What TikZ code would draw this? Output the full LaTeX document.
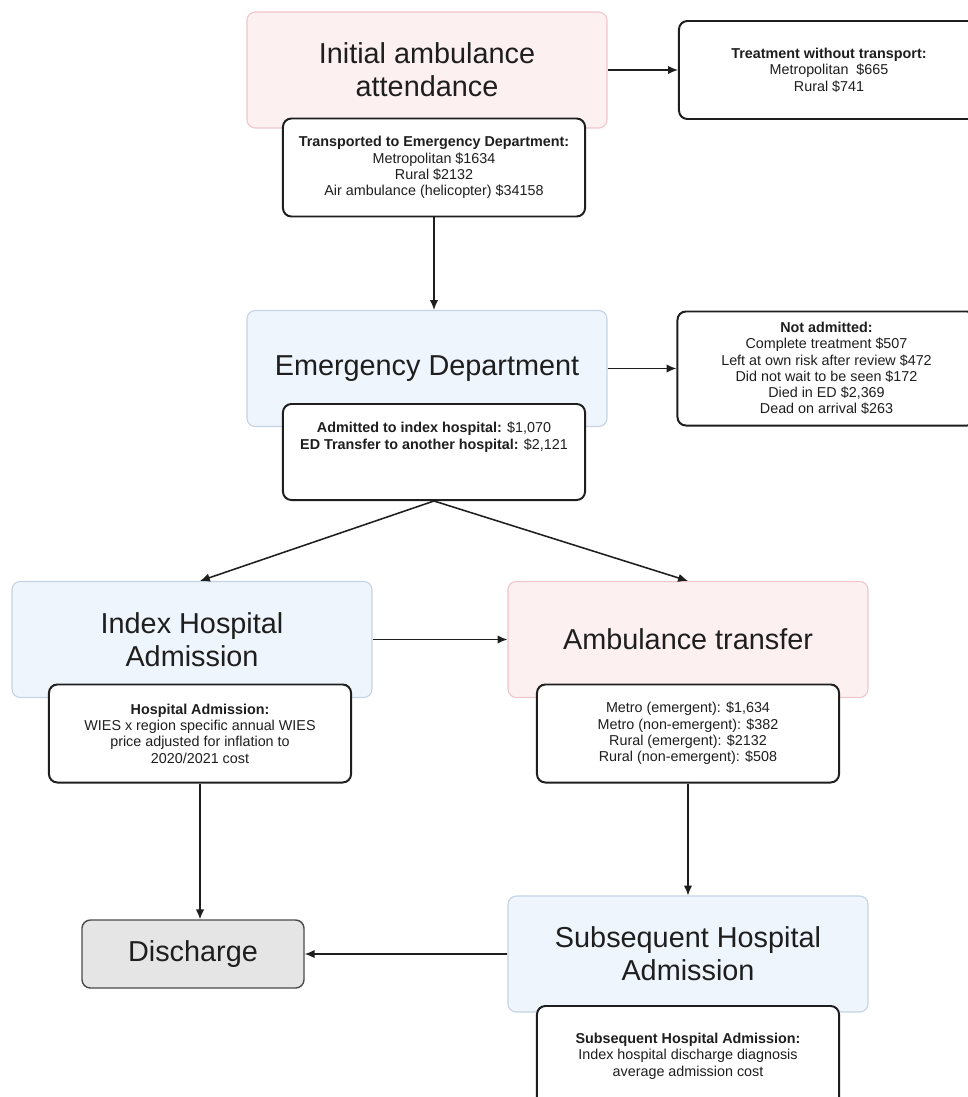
\documentclass[tikz,border=0pt]{standalone}
\usepackage{fontspec}
\setmainfont{Liberation Sans}
\usepackage{xcolor}
\usetikzlibrary{arrows.meta}
\definecolor{pinkfill}{HTML}{FDF0F1}
\definecolor{pinkline}{HTML}{F0C6CC}
\definecolor{bluefill}{HTML}{EEF5FC}
\definecolor{blueline}{HTML}{C6D3E4}
\definecolor{greyfill}{HTML}{E5E5E5}
\definecolor{ink}{HTML}{1E1E1E}

\begin{document}
\begin{tikzpicture}[x=0.025cm,y=-0.025cm]
				\tikzstyle{stage}=[rounded corners=6pt, line width=0.8pt, minimum width=9cm, minimum height=2.9cm, inner sep=0pt, align=center, text=ink, font=\fontsize{20.5}{23.5}\selectfont]
				\tikzstyle{ambstage}=[stage, fill=pinkfill, draw=pinkline]
				\tikzstyle{hospstage}=[stage, fill=bluefill, draw=blueline]
				\tikzstyle{cost}=[draw=ink, fill=white, rounded corners=6pt, line width=1.4pt, minimum width=7.55cm, minimum height=2.45cm, inner sep=0pt, align=center, text=ink, font=\fontsize{10.2}{11.6}\selectfont]
				\tikzset{edge/.style = {-{Latex[length=7pt,width=6pt]}, line width=1.1pt, draw=ink}}

				\useasboundingbox (0,0) rectangle (967,1097);

				% ambulance attendance + costs
				\node[ambstage](init) at (427,70) {Initial ambulance\\attendance};
				\node[cost](trans) at (434,167.5) {\textbf{Transported to Emergency Department:}\\Metropolitan \$1634\\Rural \$2132\\Air ambulance (helicopter) \$34158};
				\node[cost, minimum width=7.5cm](notrans) at (829,70) {\textbf{Treatment without transport:}\\Metropolitan\ \ \$665\\Rural \$741};
				\draw[edge](init) to (notrans);
				\draw[edge](trans) to (trans |- 0,310);

				% emergency department + costs
				\node[hospstage](ed) at (427,368.5) {Emergency Department};
				\node[cost, minimum height=2.4cm](adm) at (434,452) {\textbf{Admitted to index hospital:} \$1,070\\\textbf{ED Transfer to another hospital:} \$2,121\\\mbox{}\\\mbox{}};
				\node[cost, minimum width=7.45cm, minimum height=2.85cm](notadm) at (826.5,368.5) {\textbf{Not admitted:}\\Complete treatment \$507\\Left at own risk after review \$472\\Did not wait to be seen \$172\\Died in ED \$2,369\\Dead on arrival \$263};
				\draw[edge](ed) to (notadm);

				% index admission + transfer
				\node[hospstage](index) at (192,639.5) {Index Hospital\\Admission};
				\node[ambstage](transfer) at (688,639.5) {Ambulance transfer};
				\node[cost](indexcost) at (200,733.5) {\textbf{Hospital Admission:}\\WIES x region specific annual WIES\\price adjusted for inflation to\\2020/2021 cost};
				\node[cost](transfercost) at (688,733.5) {Metro (emergent): \$1,634\\Metro (non-emergent): \$382\\Rural (emergent): \$2132\\Rural (non-emergent): \$508};
				\draw[edge](adm.south) to (index.north -| indexcost);
				\draw[edge](adm.south) to (transfer.north);
				\draw[edge](index) to (transfer);

				% subsequent admission + discharge
				\node[stage, fill=greyfill, draw=ink!80, line width=1pt, minimum width=5.55cm, minimum height=1.7cm](disch) at (193,954) {Discharge};
				\node[hospstage](subseq) at (688,954) {Subsequent Hospital\\Admission};
				\node[cost, minimum height=2.5cm](subseqcost) at (688,1056) {\textbf{Subsequent Hospital Admission:}\\Index hospital discharge diagnosis\\average admission cost};
				\draw[edge](indexcost) to (indexcost |- disch.north);
				\draw[edge](transfercost) to (transfercost |- subseq.north);
				\draw[edge](subseq) to (disch);
			\end{tikzpicture}
\end{document}
